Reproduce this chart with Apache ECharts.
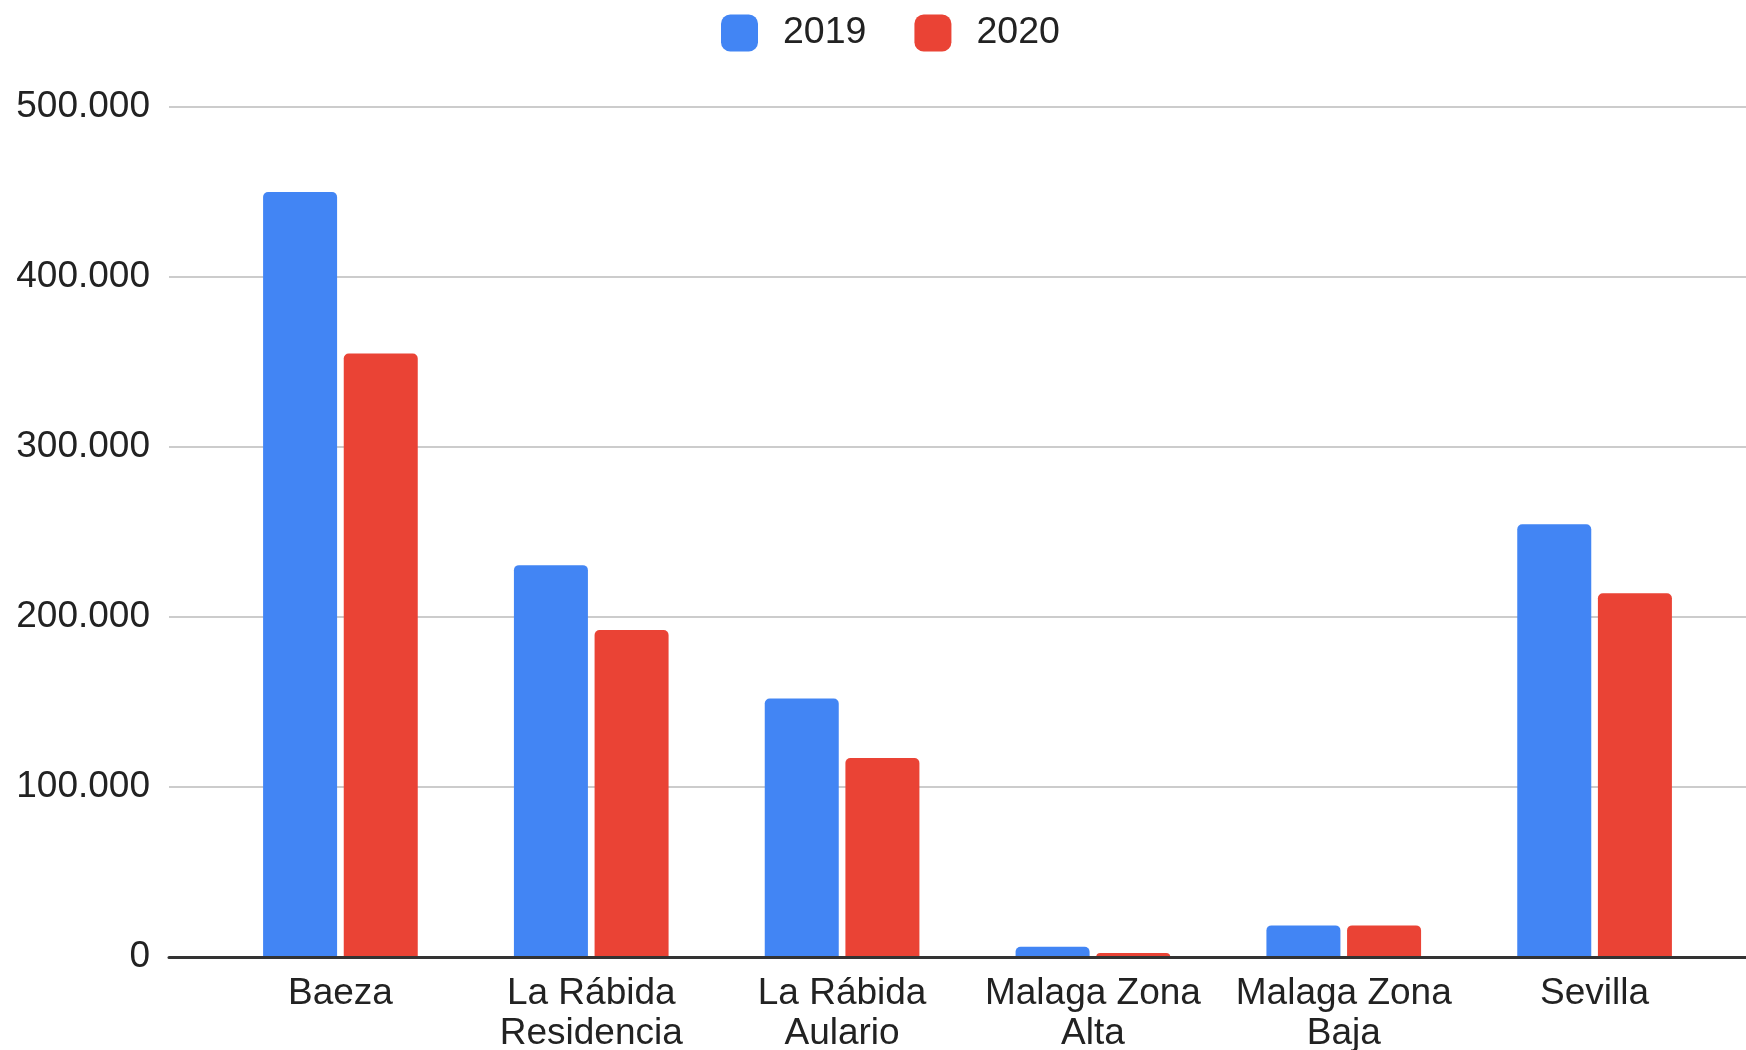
<!DOCTYPE html>
<html>
<head>
<meta charset="utf-8">
<script src="https://cdn.jsdelivr.net/npm/echarts@6/dist/echarts.min.js"></script>
<style>
html,body{margin:0;padding:0;background:#fff;}
#chart{width:1746px;height:1050px;}
</style>
</head>
<body>
<div id="chart"></div>
<script>
const categories = ['Baeza', 'La Rábida\nResidencia', 'La Rábida\nAulario', 'Malaga Zona\nAlta', 'Malaga Zona\nBaja', 'Sevilla'];
const seriesNames = ['2019', '2020'];
const values2019 = [450000, 230500, 152000, 6000, 18600, 254500];
const values2020 = [355000, 192300, 117000, 2400, 18600, 214000];
const yMin = 0, yMax = 500000, yInterval = 100000;

const FONT = 'Arial, "Liberation Sans", Helvetica, sans-serif';
const fmt = v => String(v).replace(/\B(?=(\d{3})+(?!\d))/g, '.');

const chart = echarts.init(document.getElementById('chart'), null, {renderer: 'canvas'});
chart.setOption({
  backgroundColor: '#fff',
  animation: false,
  textStyle: {fontFamily: FONT},
  legend: {
    top: 9, left: 716,
    itemWidth: 37, itemHeight: 37, itemGap: 48,
    icon: 'roundRect',
    textStyle: {fontSize: 37.5, color: '#222', fontFamily: FONT, padding: [0, 0, 0, 20]},
    data: seriesNames
  },
  grid: [
    {left: 169, right: 0, top: 107, bottom: 93, containLabel: false, outerBoundsMode: 'none'},
    {left: 215, right: 26, top: 107, bottom: 93, containLabel: false, outerBoundsMode: 'none'}
  ],
  xAxis: [
    {gridIndex: 0, type: 'value', min: 0, max: 1, z: 5,
     axisLine: {show: true, lineStyle: {color: '#333', width: 3}},
     axisTick: {show: false}, axisLabel: {show: false}, splitLine: {show: false}},
    {gridIndex: 1, type: 'category', data: categories,
     axisLine: {show: false}, axisTick: {show: false}, splitLine: {show: false},
     axisLabel: {interval: 0, fontSize: 37, lineHeight: 40, color: '#222', margin: 17, fontFamily: FONT}}
  ],
  yAxis: [
    {gridIndex: 0, type: 'value', min: yMin, max: yMax, interval: yInterval,
     axisLine: {show: false}, axisTick: {show: false},
     axisLabel: {fontSize: 37, color: '#222', margin: 19, fontFamily: FONT, formatter: fmt},
     splitLine: {lineStyle: {color: '#cccccc', width: 2}}},
    {gridIndex: 1, type: 'value', min: yMin, max: yMax, interval: yInterval, show: false,
     splitLine: {show: false}}
  ],
  series: [
    {name: seriesNames[0], type: 'bar', xAxisIndex: 1, yAxisIndex: 1, data: values2019,
     barWidth: 74, barGap: '9%',
     itemStyle: {color: '#4285F4', borderRadius: [5, 5, 0, 0]}},
    {name: seriesNames[1], type: 'bar', xAxisIndex: 1, yAxisIndex: 1, data: values2020,
     barWidth: 74, barGap: '9%',
     itemStyle: {color: '#EA4335', borderRadius: [5, 5, 0, 0]}}
  ]
});
</script>
</body>
</html>
